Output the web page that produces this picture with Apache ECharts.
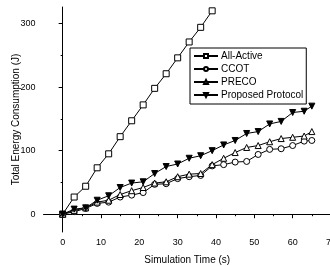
<!DOCTYPE html>
<html>
<head>
<meta charset="utf-8">
<script src="https://cdn.jsdelivr.net/npm/echarts@6/dist/echarts.min.js"></script>
<style>
  html, body { margin: 0; padding: 0; background: #fff; }
  #chart { width: 330px; height: 266px; }
</style>
</head>
<body>
<div id="chart"></div>
<script>
// simulation times (s)
var timeAllActive = [0, 3, 6, 9, 12, 15, 18, 21, 24, 27, 30, 33, 36, 39]
var timeOthers = [0, 3, 6, 9, 12, 15, 18, 21, 24, 27, 30, 33, 36, 39, 42, 45, 48, 51, 54, 57, 60, 63, 65]

// energy (J)
var allActive = [0, 27, 44, 73, 95, 122, 147, 172, 198, 221, 246, 271, 294, 320]
var ccot = [0, 4, 9, 17, 19, 27, 30, 34, 47, 48, 56, 59, 61, 76, 78, 82, 83, 94, 102, 103, 108, 115, 116]
var preco = [0, 6, 10, 19, 22, 31, 37, 42, 49, 51, 59, 63, 64, 78, 88, 97, 105, 108, 114, 119, 121, 123, 130]
var proposed = [0, 8, 10, 22, 29, 42, 49, 51, 64, 75, 79, 88, 92, 100, 109, 116, 127, 130, 142, 146, 160, 162, 170]

var xMajor = [0, 10, 20, 30, 40, 50, 60, 70]
var xMinor = [5, 15, 25, 35, 45, 55, 65]
var yMajor = [0, 100, 200, 300]
var yMinor = [50, 150, 250]

var font = 'Liberation Sans, Arial, sans-serif'

function pairs (xs, ys) {
  return ys.map(function (v, i) { return [xs[i], v] })
}

function mkSeries (name, xs, ys, symbol, rotate, fill) {
  return {
    name: name,
    type: 'line',
    data: pairs(xs, ys),
    symbol: symbol,
    symbolSize: 6,
    symbolRotate: rotate,
    showAllSymbol: true,
    lineStyle: { color: '#000', width: 1 },
    itemStyle: { color: fill, borderColor: '#000', borderWidth: 1 },
    emphasis: { disabled: true },
    animation: false
  }
}

var chart = echarts.init(document.getElementById('chart'))
var xRange = { type: 'value', min: -5, max: 70 }
var yRange = { type: 'value', min: -28, max: 326 }

var option = {
  backgroundColor: '#fff',
  animation: false,
  grid: { left: 43.5, right: -1, top: 7, bottom: 34, containLabel: false, outerBoundsMode: 'none' },
  legend: {
    left: 190,
    top: 48,
    orient: 'vertical',
    itemWidth: 24,
    itemHeight: 5,
    itemGap: 3,
    padding: [3, 3, 4, 3],
    borderColor: '#000',
    borderWidth: 1,
    textStyle: { fontFamily: font, fontSize: 10, color: '#000', padding: [0, 0, 0, -2] },
    data: ['All-Active', 'CCOT', 'PRECO', 'Proposed Protocol']
  },
  xAxis: [
    Object.assign({}, xRange, {
      name: 'Simulation Time (s)',
      nameLocation: 'middle',
      nameGap: 23,
      nameMoveOverlap: false,
      nameTextStyle: { fontFamily: font, fontSize: 10, color: '#000' },
      axisLine: { show: true, lineStyle: { color: '#000', width: 1 } },
      axisTick: { show: true, length: 4, customValues: xMajor, lineStyle: { color: '#000' } },
      axisLabel: { customValues: xMajor, margin: 6, fontFamily: font, fontSize: 9, color: '#000', alignMaxLabel: 'center', alignMinLabel: 'center' },
      splitLine: { show: false }
    }),
    Object.assign({}, xRange, {
      position: 'bottom',
      axisLine: { show: false },
      axisTick: { show: true, length: 2, customValues: xMinor, lineStyle: { color: '#000' } },
      axisLabel: { show: false },
      splitLine: { show: false }
    })
  ],
  yAxis: [
    Object.assign({}, yRange, {
      name: 'Total Energy Consumption (J)',
      nameLocation: 'middle',
      nameGap: 22,
      nameMoveOverlap: false,
      nameTextStyle: { fontFamily: font, fontSize: 10, color: '#000' },
      axisLine: { show: true, lineStyle: { color: '#000', width: 1 } },
      axisTick: { show: true, length: 4, customValues: yMajor, lineStyle: { color: '#000' } },
      axisLabel: { customValues: yMajor, margin: 8, fontFamily: font, fontSize: 9, color: '#000' },
      splitLine: { show: false }
    }),
    Object.assign({}, yRange, {
      position: 'left',
      axisLine: { show: false },
      axisTick: { show: true, length: 2, customValues: yMinor, lineStyle: { color: '#000' } },
      axisLabel: { show: false },
      splitLine: { show: false }
    })
  ],
  series: [
    mkSeries('All-Active', timeAllActive, allActive, 'rect', 0, '#fff'),
    mkSeries('CCOT', timeOthers, ccot, 'circle', 0, '#fff'),
    mkSeries('PRECO', timeOthers, preco, 'triangle', 0, '#fff'),
    mkSeries('Proposed Protocol', timeOthers, proposed, 'triangle', 180, '#000')
  ]
}

chart.setOption(option)
</script>
</body>
</html>
